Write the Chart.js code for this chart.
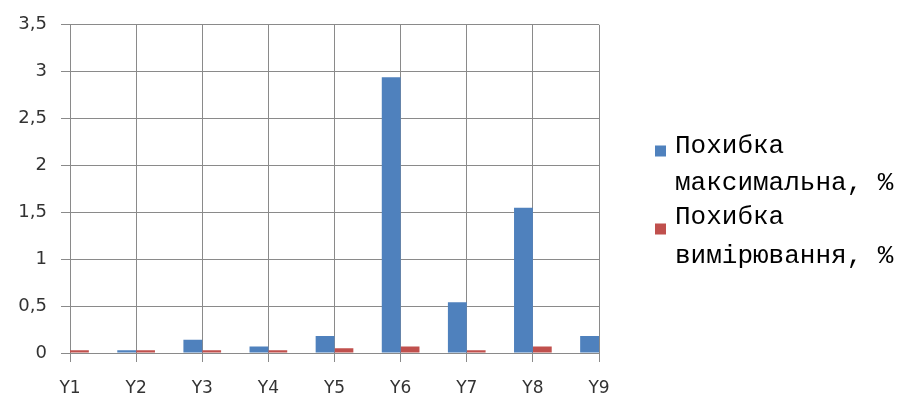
<!DOCTYPE html>
<html>
<head>
<meta charset="utf-8">
<script src="https://cdn.jsdelivr.net/npm/chart.js@4"></script>
<style>
  html, body { margin: 0; padding: 0; background: #fff; }
  #wrap { width: 899px; height: 401px; position: relative; }
</style>
</head>
<body>
<div id="wrap"><canvas id="c" width="899" height="401"></canvas></div>
<script>
// ---- data ----
const categories = ['Y1', 'Y2', 'Y3', 'Y4', 'Y5', 'Y6', 'Y7', 'Y8', 'Y9'];
const maxError = [0, 0.03, 0.14, 0.07, 0.18, 2.94, 0.54, 1.55, 0.18];
const measError = [0.03, 0.03, 0.03, 0.03, 0.05, 0.07, 0.03, 0.07, 0.03];
const seriesNames = ['Похибка максимальна, %', 'Похибка вимірювання, %'];
const legendLines = [['Похибка', 'максимальна, %'], ['Похибка', 'вимірювання, %']];
const yTicks = [0, 0.5, 1, 1.5, 2, 2.5, 3, 3.5];

const colors = ['#4F81BD', '#C0504D'];
const gridColor = '#8a8a8a';

const legendPlugin = {
  id: 'sideLegend',
  afterDraw(chart) {
    const ctx = chart.ctx;
    const x0 = 655;
    const textX = 675;
    const lineY = [[146, 183], [217, 256]];
    const boxY = [151, 229];
    const box = 11;
    ctx.save();
    chart.data.datasets.forEach((ds, i) => {
      ctx.fillStyle = ds.backgroundColor;
      ctx.fillRect(x0, boxY[i] - box / 2, box, box);
      ctx.fillStyle = '#000';
      ctx.font = '26px "Liberation Mono"';
      ctx.textBaseline = 'middle';
      ctx.textAlign = 'left';
      legendLines[i].forEach((t, j) => ctx.fillText(t, textX, lineY[i][j]));
    });
    ctx.restore();
  }
};

new Chart(document.getElementById('c'), {
  type: 'bar',
  data: {
    labels: categories,
    datasets: [
      { label: seriesNames[0], data: maxError, backgroundColor: colors[0] },
      { label: seriesNames[1], data: measError, backgroundColor: colors[1] }
    ]
  },
  options: {
    responsive: false,
    animation: false,
    events: [],
    layout: { padding: { top: 12, right: 300, bottom: 0, left: 0 } },
    datasets: { bar: { categoryPercentage: 0.57, barPercentage: 1 } },
    plugins: { legend: { display: false }, tooltip: { enabled: false } },
    scales: {
      x: {
        offset: false,
        grid: { color: gridColor, lineWidth: 1, tickLength: 9, drawTicks: true, offset: false },
        border: { color: gridColor, width: 1 },
        ticks: { color: '#333', font: { family: 'DejaVu Sans', size: 17 }, padding: 16, maxRotation: 0 },
        afterFit(s) { s.height = 48; }
      },
      y: {
        min: 0, max: 3.5,
        afterBuildTicks(s) { s.ticks = yTicks.map(v => ({ value: v })); },
        grid: { color: gridColor, lineWidth: 1, tickLength: 9, drawTicks: true },
        border: { color: gridColor, width: 1 },
        ticks: {
          color: '#333', font: { family: 'DejaVu Sans', size: 18 }, padding: 14,
          callback: v => String(v).replace('.', ',')
        },
        afterFit(s) { s.width = 70; }
      }
    }
  },
  plugins: [legendPlugin]
});
</script>
</body>
</html>
